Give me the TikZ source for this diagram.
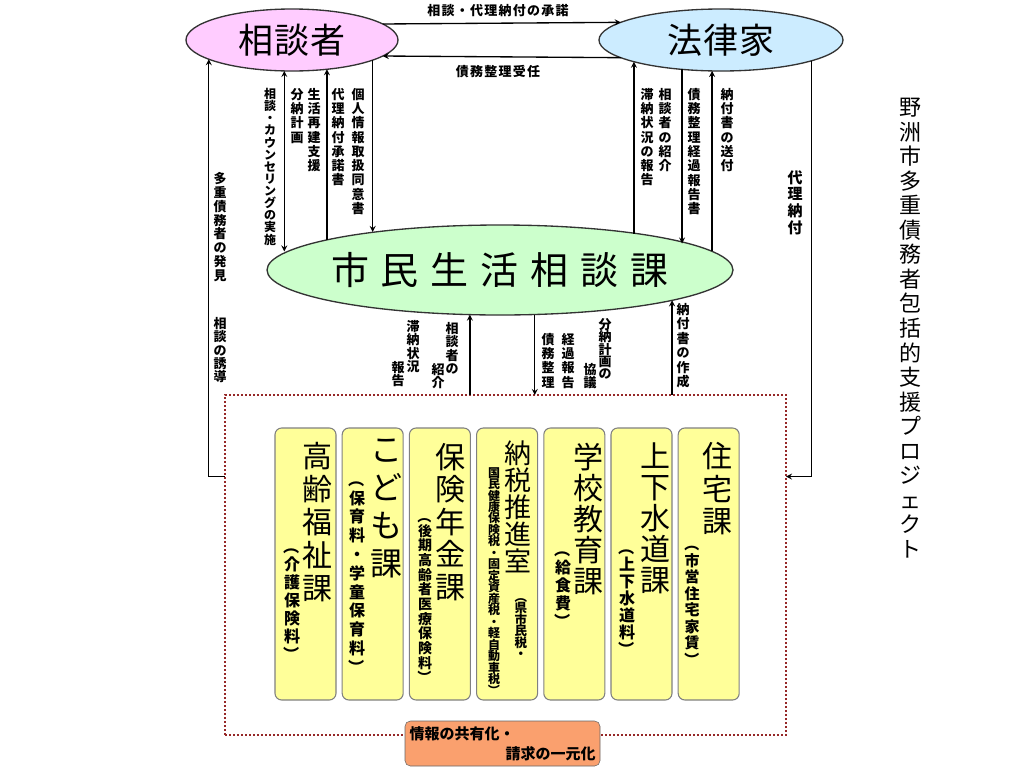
\documentclass[tikz,border=0pt]{standalone}
\usepackage{fontspec}
\setmainfont{Noto Sans CJK JP}
\usepackage{graphicx}
\usetikzlibrary{arrows}
\tikzset{>=stealth}
\usetikzlibrary{shapes,calc}

\definecolor{momo}{RGB}{255,204,255}
\definecolor{sora}{RGB}{204,236,255}
\definecolor{midori}{RGB}{204,255,204}
\definecolor{kiiro}{RGB}{255,255,153}
\definecolor{daidai}{RGB}{250,160,110}
\definecolor{tenten}{RGB}{150,40,40}

% vertical and spaced horizontal Japanese text
\makeatletter
\newcommand\tate[2]{\vbox{\baselineskip=#1\lineskiplimit=-\maxdimen\lineskip=0pt\tate@i#2\tate@end}}
\def\tate@end{\tate@end}
\def\tate@i#1{\ifx\tate@end#1\else\hbox to 1em{\hss#1\hss}\expandafter\tate@i\fi}
\newcommand\yoko[2]{\hbox{\def\yoko@p{#1}\yoko@i#2\tate@end}}
\def\yoko@i#1{\ifx\tate@end#1\else\hbox to \yoko@p{\hss#1\hss}\expandafter\yoko@i\fi}
\makeatother
\newcommand\kakkoL{\rotatebox[origin=c]{-90}{（}}
\newcommand\kakkoR{\rotatebox[origin=c]{-90}{）}}

% border angles on the ellipses
\newcommand\lowang[4]{\pgfmathsetmacro#1{atan2(-(#4)*sqrt(1-((#2)/(#3))*((#2)/(#3))),#2)}}
\newcommand\upang[4]{\pgfmathsetmacro#1{atan2((#4)*sqrt(1-((#2)/(#3))*((#2)/(#3))),#2)}}
\newcommand\sideang[5]{\pgfmathsetmacro#1{atan2(#2,(#5)*(#3)*sqrt(1-((#2)/(#4))*((#2)/(#4))))}}

\begin{document}
\begin{tikzpicture}[x=0.75pt,y=-0.75pt,
  flow/.style={line width=1pt},
  daen/.style={ellipse,draw=black!80,line width=1pt,inner sep=0pt,outer sep=0pt},
  lbl/.style={inner sep=0pt,anchor=north,font=\fontsize{9.75pt}{10pt}\selectfont\bfseries},
  ttl/.style={inner sep=0pt,anchor=north,font=\fontsize{22.5pt}{23pt}\selectfont},
  sub/.style={inner sep=0pt,anchor=north,font=\fontsize{12pt}{12pt}\selectfont\bfseries},
  kabox/.style={draw=gray,fill=kiiro,rounded corners=5pt,line width=0.8pt,
    minimum width=45.75pt,minimum height=204pt,inner sep=0pt,outer sep=0pt}]

    \useasboundingbox (0,0) rectangle (1024,768);

    \node[daen,fill=momo,minimum width=159pt,minimum height=46.5pt,
      font=\fontsize{26.25pt}{27pt}\selectfont] (soudansha) at (292,40) {\yoko{27pt}{相談者}};
    \node[daen,fill=sora,minimum width=183pt,minimum height=46.5pt,
      font=\fontsize{26.25pt}{27pt}\selectfont] (houritsuka) at (721,40) {\yoko{27pt}{法律家}};
    \node[daen,fill=midori,minimum width=349.5pt,minimum height=67.5pt,
      label={[font=\fontsize{28.5pt}{29pt}\selectfont]center:\yoko{37.5pt}{市民生活相談課}}] (soudanka) at (500,270) {};

	\node[draw=tenten,line width=1.5pt,dash pattern=on 1.5pt off 1.5pt,
	  minimum width=420.75pt,minimum height=255pt,inner sep=0pt,outer sep=0pt] (renkei) at (505.5,565) {};
	\coordinate (renkeiL) at ($(renkei.north west)!0.24!(renkei.south west)$);
	\coordinate (renkeiR) at ($(renkei.north east)!0.24!(renkei.south east)$);

    \node[kabox] (kourei) at (305.5,564) {};
    \node[kabox] (kodomo) at (372.7,564) {};
    \node[kabox] (hoken) at (439.9,564) {};
    \node[kabox] (nouzei) at (507.1,564) {};
    \node[kabox] (gakkou) at (574.3,564) {};
    \node[kabox] (suidou) at (641.5,564) {};
    \node[kabox] (juutaku) at (708.7,564) {};

    \node[draw=black!60,fill=daidai,rounded corners=4pt,minimum width=146.25pt,minimum height=33.75pt,
      text width=139.5pt,align=left,inner xsep=3pt,inner ysep=0pt,
      font=\fontsize{11.25pt}{15pt}\selectfont\bfseries] (kyouyu) at (502.5,743.5)
      {情報の共有化・\\\hspace*{\fill}請求の一元化};

	% angles
	\lowang\angsa{-85}{106}{31}
	\lowang\angsb{-8}{106}{31}
	\lowang\angsc{34}{106}{31}
	\lowang\angsd{80}{106}{31}
	\upang\angca{-216}{233}{45}
	\upang\angcb{-174}{233}{45}
	\upang\angcc{-128}{233}{45}
	\lowang\anghA{-88}{122}{31}
	\lowang\anghB{-39}{122}{31}
	\lowang\anghC{-9}{122}{31}
	\lowang\anghD{89}{122}{31}
	\upang\angcd{133}{233}{45}
	\upang\angce{182}{233}{45}
	\upang\angcf{212}{233}{45}
	\lowang\angcg{-31}{233}{45}
	\lowang\angch{34}{233}{45}
	\lowang\angci{166}{233}{45}
	\sideang\angta{17}{106}{31}{1}
	\sideang\angtb{17}{122}{31}{-1}
	\sideang\angtc{-17}{106}{31}{1}
	\sideang\angtd{-17}{122}{31}{-1}

	\draw[flow,->] (soudansha.\angta) -- (houritsuka.\angtb);
	\draw[flow,->] (houritsuka.\angtd) -- (soudansha.\angtc);
	\draw[flow,<-] (soudansha.\angsa) |- (renkeiL);
	\draw[flow,<->] (soudansha.\angsb) -- (soudansha.\angsb |- soudanka.\angca);
	\draw[flow,<-] (soudansha.\angsc) -- (soudansha.\angsc |- soudanka.\angcb);
	\draw[flow,->] (soudansha.\angsd) -- (soudansha.\angsd |- soudanka.\angcc);
	\draw[flow,<-] (houritsuka.\anghA) -- (houritsuka.\anghA |- soudanka.\angcd);
	\draw[flow,->] (houritsuka.\anghB) -- (houritsuka.\anghB |- soudanka.\angce);
	\draw[flow,<-] (houritsuka.\anghC) -- (houritsuka.\anghC |- soudanka.\angcf);
	\draw[flow,->] (houritsuka.\anghD) |- (renkeiR);
	\draw[flow,<-] (soudanka.\angcg) -- (soudanka.\angcg |- renkei.north);
	\draw[flow,->] (soudanka.\angch) -- (soudanka.\angch |- renkei.north);
	\draw[flow,<-] (soudanka.\angci) -- (soudanka.\angci |- renkei.north);

	% labels on the connectors
	\node[font=\fontsize{9.75pt}{10pt}\selectfont\bfseries] (shoudaku) at (498,11) {\yoko{10.7pt}{相談・代理納付の承諾}};
	\node[font=\fontsize{9.75pt}{10pt}\selectfont\bfseries] (juunin) at (498,72) {\yoko{10.7pt}{債務整理受任}};

	\node[lbl,font=\fontsize{9pt}{9pt}\selectfont\bfseries] (jisshi) at (270,88) {\tate{9.1pt}{相談・カウンセリングの実施}};
	\node[lbl] (bunnou) at (297,88) {\tate{10.7pt}{分納計画}};
	\node[lbl] (saiken) at (314,88) {\tate{10.7pt}{生活再建支援}};
	\node[lbl] (dairisho) at (338,88) {\tate{10.7pt}{代理納付承諾書}};
	\node[lbl] (doui) at (358,88) {\tate{10.7pt}{個人情報取扱同意書}};
	\node[lbl] (tainou) at (647,88) {\tate{10.7pt}{滞納状況の報告}};
	\node[lbl] (shoukai) at (665,88) {\tate{10.7pt}{相談者の紹介}};
	\node[lbl] (keika) at (694,88) {\tate{10.7pt}{債務整理経過報告書}};
	\node[lbl] (soufu) at (727,88) {\tate{10.7pt}{納付書の送付}};
	\node[lbl,font=\fontsize{11.25pt}{12pt}\selectfont\bfseries] (dairi) at (795,170) {\tate{12.5pt}{代理納付}};
	\node[lbl] (hakken) at (220,172) {\tate{10.4pt}{多重債務者の発見}};
	\node[lbl] (yuudou) at (220,317) {\tate{10pt}{相談の誘導}};

	\node[lbl] (houkoku) at (398,361) {\tate{10.1pt}{報告}};
	\node[lbl] (joukyou) at (413,320) {\tate{10.1pt}{滞納状況}};
	\node[lbl] (shoukaib) at (438,363) {\tate{10.1pt}{紹介}};
	\node[lbl] (soudanno) at (452,322) {\tate{10.1pt}{相談者の}};
	\node[lbl] (seiri) at (548,333) {\tate{10.7pt}{債務整理}};
	\node[lbl] (keikab) at (568,333) {\tate{10.7pt}{経過報告}};
	\node[lbl] (kyougi) at (590,363) {\tate{10.1pt}{協議}};
	\node[lbl] (keikaku) at (605,318) {\tate{9.3pt}{分納計画の}};
	\node[lbl] (sakusei) at (683,303) {\tate{10.8pt}{納付書の作成}};

	% department columns
	\node[ttl] (kourei-t) at (317,442) {\tate{24.75pt}{高齢福祉課}};
	\node[sub] (kourei-s) at (292,538) {\tate{13.5pt}{\kakkoL 介護保険料\kakkoR}};
	\node[ttl,font=\fontsize{24pt}{24pt}\selectfont] (kodomo-t) at (386,439) {\tate{28.5pt}{こども課}};
	\node[sub] (kodomo-s) at (357,471) {\tate{14.1pt}{\kakkoL 保育料・学童保育料\kakkoR}};
	\node[ttl] (hoken-t) at (450,443) {\tate{24.4pt}{保険年金課}};
	\node[sub,font=\fontsize{10.5pt}{11pt}\selectfont\bfseries] (hoken-s) at (425,509) {\tate{11pt}{\kakkoL 後期高齢者医療保険料\kakkoR}};
	\node[ttl,font=\fontsize{20.25pt}{21pt}\selectfont] (nouzei-t) at (518,441) {\tate{20.25pt}{納税推進室}};
	\node[sub,font=\fontsize{9.4pt}{10pt}\selectfont\bfseries] (nouzei-u) at (521,590) {\tate{8.6pt}{\kakkoL 県市民税・}};
	\node[sub,font=\fontsize{9pt}{9pt}\selectfont\bfseries] (nouzei-s) at (494,467) {\tate{8.6pt}{国民健康保険税・固定資産税・軽自動車税\kakkoR}};
	\node[ttl] (gakkou-t) at (588,443) {\tate{23.25pt}{学校教育課}};
	\node[sub] (gakkou-s) at (563,541) {\tate{13.5pt}{\kakkoL 給食費\kakkoR}};
	\node[ttl] (suidou-t) at (655,442) {\tate{23.25pt}{上下水道課}};
	\node[sub] (suidou-s) at (627,539) {\tate{12.75pt}{\kakkoL 上下水道料\kakkoR}};
	\node[ttl] (juutaku-t) at (717,442) {\tate{24.4pt}{住宅課}};
	\node[sub,font=\fontsize{11.25pt}{12pt}\selectfont\bfseries] (juutaku-s) at (692,536) {\tate{12.4pt}{\kakkoL 市営住宅家賃\kakkoR}};

	\node[inner sep=0pt,anchor=north,font=\fontsize{16.5pt}{17pt}\selectfont] (project) at (910,98)
	  {\tate{18.4pt}{野洲市多重債務者包括的支援プロジェクト}};

\end{tikzpicture}
\end{document}
